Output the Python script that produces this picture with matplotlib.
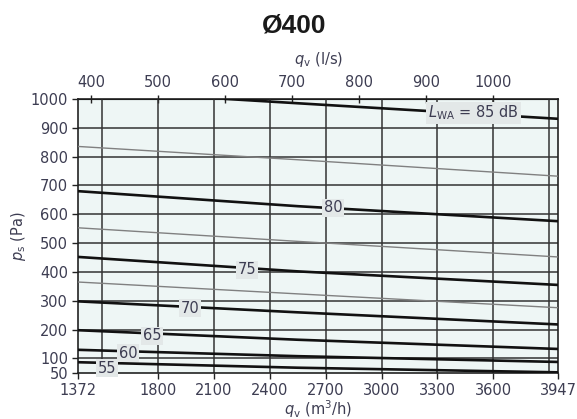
import os
import matplotlib
matplotlib.use("Agg")
import matplotlib.pyplot as plt
from matplotlib.font_manager import FontProperties
import numpy as np

# flow (m3/h) and static pressure (Pa)
x_pts = [1372, 2550, 3947]
thick_levels = [80, 75, 70, 65, 60, 55]
thick_ps = {
    80: [680, 628, 576],
    75: [452, 402, 355],
    70: [298, 260, 218],
    65: [198, 165, 133],
    60: [130, 108, 88],
    55: [87, 68, 52],
}
thin_ps = [
    [835, 789, 732],
    [553, 506, 452],
    [365, 324, 276],
]
x85 = [2160, 2700, 3947]
ps85 = [1000, 979, 931]

# label positions (m3/h, Pa)
lab_x = [2740, 2277, 1972, 1767, 1638, 1525]
lab_y = [622, 407, 275, 178, 119, 67]

xticks = [1372, 1800, 2100, 2400, 2700, 3000, 3300, 3600, 3947]
xgrid = [1500, 1800, 2100, 2400, 2700, 3000, 3300, 3600, 3900]
yticks = [50, 100, 200, 300, 400, 500, 600, 700, 800, 900, 1000]
ygrid = [100, 200, 300, 400, 500, 600, 700, 800, 900]
ls_ticks = [400, 500, 600, 700, 800, 900, 1000]

tc = '#3d3d52'
bg = '#eef6f5'
fs = 10.5

# force the normal-width DejaVu Sans shipped with matplotlib
dv = os.path.join(matplotlib.get_data_path(), 'fonts', 'ttf', 'DejaVuSans.ttf')
fp = FontProperties(fname=dv, size=fs)

fig = plt.figure(figsize=(5.77, 4.19), dpi=100)
ax = fig.add_axes([0.136, 0.110, 0.831, 0.654])
ax.set_facecolor(bg)
ax.set_xlim(1372, 3947)
ax.set_ylim(50, 1000)

# grid lines drawn separately since they don't match the tick positions
for g in xgrid:
    ax.axvline(g, color='#333333', lw=1.1, zorder=1)
for g in ygrid:
    ax.axhline(g, color='#333333', lw=1.1, zorder=1)

ax.set_xticks(xticks)
ax.set_yticks(yticks)
ax.tick_params(axis='both', labelcolor=tc, color='#222222', length=4, width=1)
for s in ax.spines.values():
    s.set_color('#222222')
    s.set_linewidth(1.2)

for p in thin_ps:
    ax.plot(x_pts, p, color='#808080', lw=1.0, zorder=3)
for lv in thick_levels:
    ax.plot(x_pts, thick_ps[lv], color='#111111', lw=1.9, zorder=3)
ax.plot(x85, ps85, color='#111111', lw=1.9, zorder=3)

for lv, lx, ly in zip(thick_levels, lab_x, lab_y):
    ax.text(lx, ly, str(lv), fontproperties=fp, color=tc, ha='center', va='center', zorder=4,
            bbox=dict(boxstyle='square,pad=0.12', fc='#e3e8e8', ec='none'))
ax.text(3250, 952, r'$L_{\mathregular{WA}}$ = 85 dB', fontproperties=fp, color=tc,
        ha='left', va='center', zorder=4,
        bbox=dict(boxstyle='square,pad=0.12', fc='#e3e8e8', ec='none'))

top = ax.secondary_xaxis('top', functions=(lambda v: v / 3.6, lambda v: v * 3.6))
top.set_xticks(ls_ticks)
top.tick_params(labelcolor=tc, color='#222222', direction='inout', length=6, width=1)
top.set_xlabel(r'$q_{\rm v}$ (l/s)', fontproperties=fp, color=tc, labelpad=8)

for lab in ax.get_xticklabels() + ax.get_yticklabels() + top.get_xticklabels():
    lab.set_fontproperties(fp)

ax.set_xlabel(r'$q_{\rm v}$ (m$^3$/h)', fontproperties=fp, color=tc, labelpad=0)
ax.set_ylabel(r'$p_{\rm s}$ (Pa)', fontproperties=fp, color=tc, labelpad=2)

fig.text(0.51, 0.938, 'Ø400', fontsize=19, fontweight='bold', ha='center', va='center',
         family=['Liberation Sans', 'DejaVu Sans'], color='#1a1a1a')

fig.savefig('out.png', dpi=100)
